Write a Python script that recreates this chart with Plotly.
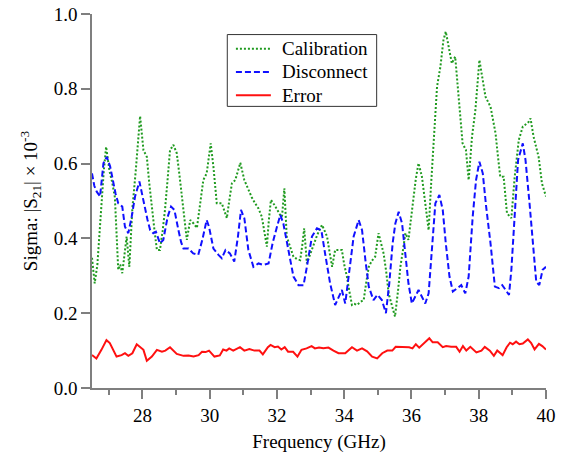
import plotly.graph_objects as go

# Frequency sweep (GHz) and sigma of |S21| (x 1e-3) for each measurement set
cal_freq = [26.50, 26.58, 26.66, 26.75, 26.85, 26.92, 27.02, 27.10, 27.18, 27.28, 27.34, 27.40,
            27.47, 27.53, 27.61, 27.70, 27.80, 27.88, 27.93, 28.03, 28.13, 28.20, 28.28, 28.36,
            28.43, 28.52, 28.60, 28.67, 28.75, 28.82, 28.92, 29.02, 29.10, 29.17, 29.25, 29.32,
            29.42, 29.52, 29.62, 29.72, 29.81, 29.91, 30.03, 30.11, 30.21, 30.36, 30.51, 30.58,
            30.66, 30.76, 30.84, 30.91, 31.03, 31.15, 31.25, 31.35, 31.45, 31.55, 31.63, 31.70,
            31.76, 31.82, 31.92, 32.00, 32.08, 32.15, 32.22, 32.29, 32.40, 32.49, 32.59, 32.69,
            32.75, 32.81, 32.89, 33.00, 33.09, 33.20, 33.34, 33.42, 33.49, 33.57, 33.64, 33.73,
            33.83, 33.93, 34.00, 34.08, 34.15, 34.23, 34.30, 34.38, 34.48, 34.58, 34.65, 34.73,
            34.82, 34.92, 35.02, 35.10, 35.17, 35.25, 35.32, 35.42, 35.51, 35.60, 35.67, 35.75,
            35.82, 35.91, 35.98, 36.06, 36.13, 36.21, 36.31, 36.41, 36.51, 36.58, 36.66, 36.76,
            36.86, 36.95, 37.02, 37.10, 37.20, 37.30, 37.40, 37.46, 37.52, 37.62, 37.70, 37.80,
            37.90, 38.02, 38.10, 38.20, 38.35, 38.50, 38.57, 38.64, 38.74, 38.84, 38.97, 39.07,
            39.19, 39.31, 39.40, 39.49, 39.54, 39.63, 39.78, 39.88, 40.00]
cal_sigma = [0.348, 0.280, 0.330, 0.450, 0.580, 0.645, 0.580, 0.550, 0.510, 0.316, 0.330, 0.307,
             0.360, 0.405, 0.324, 0.480, 0.580, 0.680, 0.727, 0.636, 0.618, 0.550, 0.476, 0.420,
             0.369, 0.369, 0.420, 0.476, 0.560, 0.636, 0.650, 0.628, 0.570, 0.512, 0.450, 0.396,
             0.449, 0.440, 0.428, 0.500, 0.556, 0.574, 0.654, 0.592, 0.494, 0.494, 0.454, 0.500,
             0.547, 0.556, 0.580, 0.602, 0.556, 0.529, 0.510, 0.494, 0.480, 0.458, 0.420, 0.378,
             0.450, 0.503, 0.490, 0.476, 0.465, 0.458, 0.534, 0.405, 0.375, 0.351, 0.345, 0.342,
             0.380, 0.427, 0.333, 0.360, 0.387, 0.410, 0.436, 0.420, 0.405, 0.360, 0.324, 0.369,
             0.370, 0.369, 0.330, 0.298, 0.260, 0.222, 0.225, 0.222, 0.230, 0.235, 0.280, 0.324,
             0.340, 0.351, 0.414, 0.385, 0.360, 0.310, 0.253, 0.220, 0.191, 0.260, 0.324, 0.370,
             0.414, 0.396, 0.450, 0.512, 0.560, 0.601, 0.565, 0.494, 0.422, 0.540, 0.654, 0.806,
             0.859, 0.930, 0.953, 0.913, 0.868, 0.886, 0.779, 0.700, 0.654, 0.636, 0.556, 0.672,
             0.743, 0.877, 0.832, 0.779, 0.752, 0.681, 0.620, 0.565, 0.565, 0.467, 0.454, 0.565,
             0.663, 0.699, 0.705, 0.712, 0.721, 0.672, 0.618, 0.547, 0.512]

dis_freq = [26.50, 26.57, 26.64, 26.74, 26.84, 26.94, 27.04, 27.13, 27.20, 27.28, 27.40, 27.48,
            27.58, 27.68, 27.78, 27.91, 28.00, 28.08, 28.15, 28.23, 28.32, 28.40, 28.52, 28.62,
            28.75, 28.85, 28.95, 29.07, 29.15, 29.22, 29.37, 29.51, 29.66, 29.78, 29.91, 29.98,
            30.11, 30.26, 30.36, 30.47, 30.60, 30.73, 30.84, 30.93, 31.03, 31.15, 31.30, 31.45,
            31.60, 31.75, 31.87, 32.00, 32.10, 32.19, 32.34, 32.49, 32.64, 32.79, 32.89, 33.04,
            33.19, 33.32, 33.43, 33.58, 33.73, 33.85, 33.93, 34.03, 34.15, 34.28, 34.43, 34.53,
            34.63, 34.73, 34.87, 34.99, 35.12, 35.24, 35.34, 35.44, 35.52, 35.62, 35.72, 35.82,
            35.91, 36.01, 36.11, 36.21, 36.31, 36.41, 36.51, 36.61, 36.71, 36.83, 36.93, 37.02,
            37.13, 37.23, 37.35, 37.48, 37.60, 37.70, 37.82, 37.92, 38.02, 38.12, 38.22, 38.35,
            38.48, 38.60, 38.70, 38.80, 38.90, 38.97, 39.07, 39.17, 39.31, 39.39, 39.51, 39.61,
            39.71, 39.80, 39.90, 40.00]
dis_sigma = [0.574, 0.540, 0.525, 0.512, 0.601, 0.618, 0.592, 0.547, 0.520, 0.494, 0.485, 0.431,
             0.414, 0.458, 0.512, 0.552, 0.512, 0.476, 0.450, 0.422, 0.414, 0.418, 0.387, 0.396,
             0.458, 0.485, 0.476, 0.422, 0.390, 0.373, 0.373, 0.360, 0.356, 0.396, 0.449, 0.431,
             0.373, 0.356, 0.347, 0.369, 0.360, 0.338, 0.405, 0.476, 0.454, 0.369, 0.324, 0.333,
             0.329, 0.333, 0.387, 0.431, 0.463, 0.440, 0.369, 0.298, 0.275, 0.275, 0.324, 0.405,
             0.427, 0.422, 0.360, 0.280, 0.222, 0.244, 0.262, 0.226, 0.307, 0.405, 0.449, 0.422,
             0.342, 0.271, 0.235, 0.249, 0.235, 0.200, 0.280, 0.387, 0.440, 0.471, 0.440, 0.351,
             0.280, 0.226, 0.244, 0.262, 0.244, 0.226, 0.253, 0.387, 0.494, 0.516, 0.476, 0.387,
             0.298, 0.258, 0.267, 0.275, 0.253, 0.298, 0.458, 0.556, 0.605, 0.574, 0.485, 0.387,
             0.271, 0.267, 0.275, 0.262, 0.249, 0.316, 0.476, 0.610, 0.654, 0.610, 0.494, 0.387,
             0.284, 0.275, 0.316, 0.324]

err_freq = [26.50, 26.63, 26.78, 26.93, 27.03, 27.13, 27.23, 27.38, 27.48, 27.58, 27.70, 27.83,
            27.93, 28.03, 28.13, 28.28, 28.43, 28.58, 28.68, 28.82, 29.02, 29.22, 29.37, 29.52,
            29.67, 29.77, 29.88, 29.98, 30.14, 30.30, 30.40, 30.50, 30.58, 30.70, 30.90, 31.03,
            31.18, 31.33, 31.48, 31.58, 31.73, 31.81, 31.93, 32.03, 32.13, 32.23, 32.33, 32.48,
            32.61, 32.73, 32.88, 33.03, 33.13, 33.25, 33.38, 33.53, 33.68, 33.83, 34.03, 34.23,
            34.38, 34.53, 34.68, 34.83, 34.98, 35.13, 35.28, 35.43, 35.53, 35.73, 35.93, 36.03,
            36.13, 36.23, 36.38, 36.53, 36.63, 36.78, 36.93, 37.03, 37.18, 37.33, 37.43, 37.53,
            37.63, 37.75, 37.93, 38.08, 38.18, 38.33, 38.45, 38.55, 38.71, 38.83, 38.93, 39.01,
            39.11, 39.21, 39.31, 39.46, 39.56, 39.66, 39.79, 39.89, 40.00]
err_sigma = [0.088, 0.079, 0.102, 0.128, 0.120, 0.100, 0.084, 0.088, 0.093, 0.086, 0.093, 0.117,
             0.110, 0.102, 0.073, 0.084, 0.102, 0.097, 0.100, 0.109, 0.091, 0.086, 0.087, 0.084,
             0.088, 0.097, 0.096, 0.100, 0.084, 0.087, 0.103, 0.100, 0.106, 0.100, 0.109, 0.100,
             0.104, 0.100, 0.100, 0.090, 0.109, 0.115, 0.109, 0.111, 0.103, 0.109, 0.097, 0.097,
             0.084, 0.102, 0.106, 0.112, 0.106, 0.108, 0.106, 0.108, 0.100, 0.093, 0.093, 0.109,
             0.100, 0.106, 0.098, 0.084, 0.079, 0.093, 0.100, 0.100, 0.110, 0.110, 0.109, 0.106,
             0.117, 0.108, 0.121, 0.133, 0.122, 0.122, 0.109, 0.112, 0.110, 0.110, 0.097, 0.112,
             0.100, 0.110, 0.095, 0.100, 0.110, 0.100, 0.086, 0.100, 0.088, 0.109, 0.121, 0.117,
             0.124, 0.117, 0.119, 0.130, 0.120, 0.103, 0.118, 0.112, 0.103]

x_ticks = [28, 30, 32, 34, 36, 38, 40]
y_ticks = [0.0, 0.2, 0.4, 0.6, 0.8, 1.0]

FONT = "Liberation Serif, Times New Roman, serif"
AXIS_GRAY = "#7f7f7f"
FS = 19

series = [
    ("Calibration", cal_freq, cal_sigma, "#1f9a1f", "2px,2px"),
    ("Disconnect", dis_freq, dis_sigma, "#1010ff", "6px,3px"),
    ("Error", err_freq, err_sigma, "#ff1010", "solid"),
]

fig = go.Figure()
for name, xs, ys, color, dash in series:
    fig.add_trace(go.Scatter(x=xs, y=ys, mode="lines", name=name, showlegend=False,
                             line=dict(color=color, width=2, dash=dash)))

# Compact boxed key in the upper middle of the plot (paper coordinates)
key_x0, key_x1, key_top, key_bottom = 0.298, 0.627, 0.945, 0.753
sample_x0, sample_x1, label_x = 0.317, 0.394, 0.414
row_y = [0.907, 0.845, 0.783]
shapes = [dict(type="rect", xref="paper", yref="paper", x0=key_x0, x1=key_x1,
               y0=key_bottom, y1=key_top, fillcolor="white",
               line=dict(color="#333333", width=1), layer="above")]
annotations = []
for (name, _, _, color, dash), ry in zip(series, row_y):
    shapes.append(dict(type="line", xref="paper", yref="paper", x0=sample_x0, x1=sample_x1,
                       y0=ry, y1=ry, line=dict(color=color, width=2, dash=dash), layer="above"))
    annotations.append(dict(text=name, xref="paper", yref="paper", x=label_x, y=ry,
                            xanchor="left", yanchor="middle", showarrow=False,
                            font=dict(family=FONT, size=FS, color="black")))

fig.update_layout(
    width=565, height=455,
    margin=dict(l=92, r=19, t=13.5, b=66.5),
    paper_bgcolor="white", plot_bgcolor="white",
    font=dict(family=FONT, size=FS, color="black"),
    showlegend=False,
    shapes=shapes,
    annotations=annotations,
    xaxis=dict(
        range=[26.5, 40], tickvals=x_ticks, showgrid=False, zeroline=False, automargin=False,
        showline=True, linecolor=AXIS_GRAY, linewidth=1.5,
        ticks="outside", ticklen=9, tickwidth=1.5, tickcolor=AXIS_GRAY,
        minor=dict(dtick=1, tick0=27, ticks="outside", ticklen=5, tickwidth=1.5,
                   tickcolor=AXIS_GRAY, showgrid=False),
        title=dict(text="Frequency (GHz)", standoff=10,
                   font=dict(family=FONT, size=FS, color="black")),
        tickfont=dict(family=FONT, size=FS, color="black"),
    ),
    yaxis=dict(
        range=[0, 1.0], tickvals=y_ticks, tickformat=".1f", showgrid=False, zeroline=False,
        automargin=False,
        showline=True, linecolor=AXIS_GRAY, linewidth=1.5,
        ticks="outside", ticklen=9, tickwidth=1.5, tickcolor=AXIS_GRAY,
        title=dict(text="Sigma: |S<sub>21</sub>| × 10<sup>-3</sup>", standoff=11,
                   font=dict(family=FONT, size=FS, color="black")),
        tickfont=dict(family=FONT, size=FS, color="black"),
    ),
)

fig.write_html("out.html")
